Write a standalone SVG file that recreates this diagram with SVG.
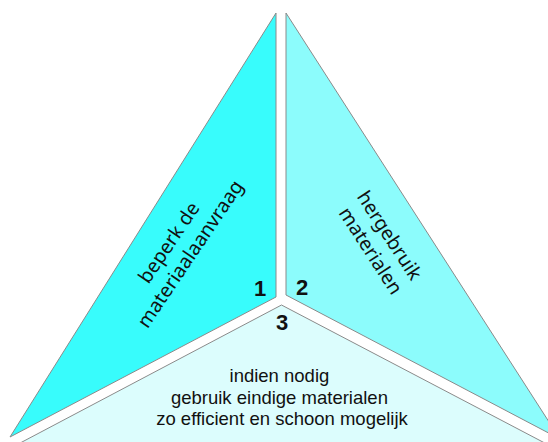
<svg xmlns="http://www.w3.org/2000/svg" width="548" height="442" viewBox="0 0 548 442">
  <style>
    .part { stroke: #8a8a8a; stroke-width: 1; stroke-linejoin: miter; }
    .lbl { font-family: "Noto Sans", "Open Sans", sans-serif; font-size: 19.5px; fill: #111; text-anchor: middle; }
    .low { font-family: "Liberation Sans", Arial, sans-serif; font-size: 18.5px; }
    .num { font-family: "Liberation Sans", Arial, sans-serif; font-size: 22px; font-weight: bold; fill: #111; text-anchor: middle; }
  </style>
  <rect width="548" height="442" fill="#ffffff"/>

  <!-- 1: reduce demand -->
  <g id="part-1">
    <polygon class="part" points="276,13 276,297 10,437" fill="#38fcfc"/>
    <text class="lbl" transform="translate(180,247) rotate(-56)">
      <tspan x="0" y="-5">beperk de</tspan>
      <tspan x="0" y="19">materiaalaanvraag</tspan>
    </text>
    <text class="num" x="260" y="296">1</text>
  </g>

  <!-- 2: reuse -->
  <g id="part-2">
    <polygon class="part" points="286,13 286,295 560,439" fill="#8cfcfc"/>
    <text class="lbl" transform="translate(381,244) rotate(57)">
      <tspan x="0" y="-5">hergebruik</tspan>
      <tspan x="0" y="19">materialen</tspan>
    </text>
    <text class="num" x="302" y="295">2</text>
  </g>

  <!-- 3: finite materials -->
  <g id="part-3">
    <polygon class="part" points="281.5,305 560,451 5,451" fill="#dcfdfd"/>
    <text class="num" x="282" y="330">3</text>
    <text class="lbl low">
      <tspan x="282" y="382">indien nodig</tspan>
      <tspan x="282" y="403.5">gebruik eindige materialen</tspan>
      <tspan x="282" y="425">zo efficient en schoon mogelijk</tspan>
    </text>
  </g>

  <g id="connectors"/>
</svg>
